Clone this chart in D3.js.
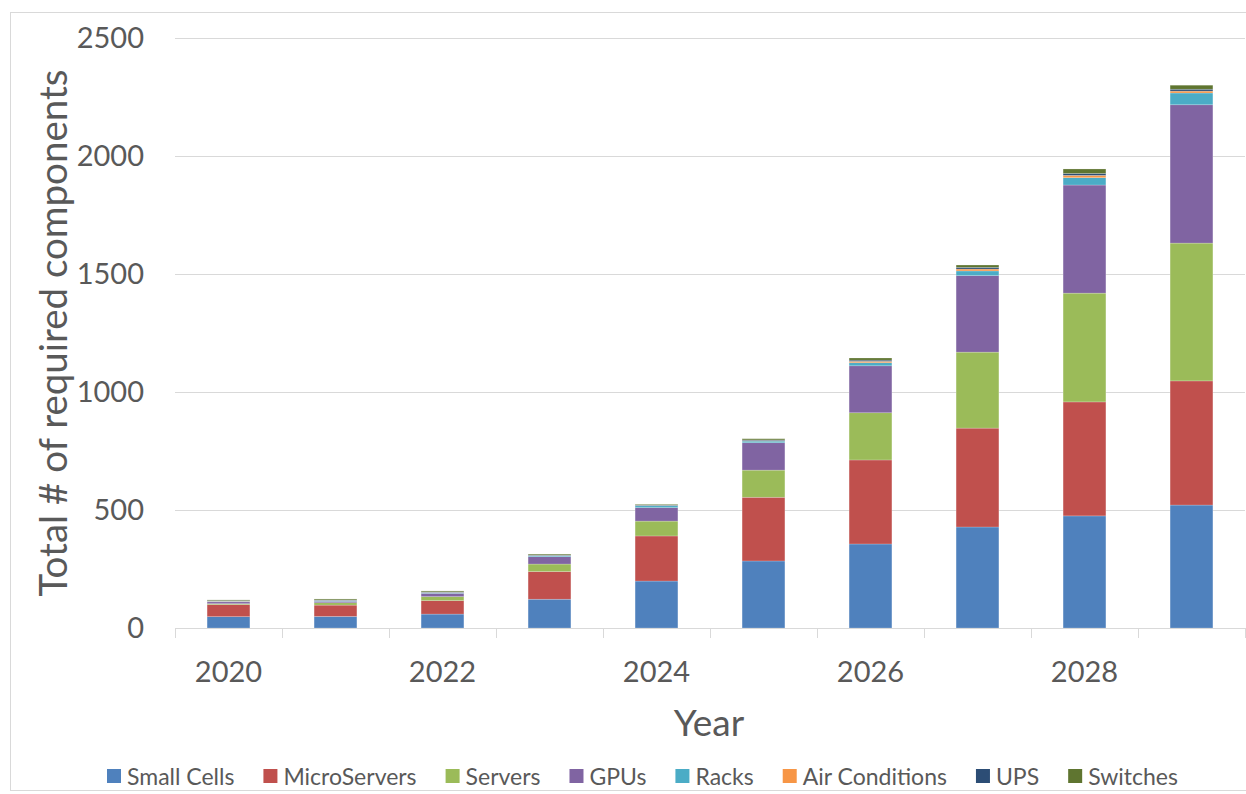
<!DOCTYPE html>
<html>
<head>
<meta charset="utf-8">
<script src="https://cdn.jsdelivr.net/npm/d3@7"></script>
<style>
  html, body { margin: 0; padding: 0; background: #fff; }
  svg { display: block; }
  text { font-family: Lato, "Open Sans", sans-serif; fill: #595959; }
</style>
</head>
<body>
<svg id="chart" width="1246" height="794"></svg>
<script>
// Years on the category axis
const years = [2020, 2021, 2022, 2023, 2024, 2025, 2026, 2027, 2028, 2029];
// Only every other year is labelled
const yearTickLabels = ["2020", "2022", "2024", "2026", "2028"];
const yTickValues = [0, 500, 1000, 1500, 2000, 2500];

// Component series, stacked bottom to top
const seriesNames = ["Small Cells", "MicroServers", "Servers", "GPUs", "Racks", "Air Conditions", "UPS", "Switches"];
const smallCells   = [48, 49, 59, 122, 199, 284, 356, 428, 475, 521];
const microServers = [51, 48, 57, 117, 191, 270, 356, 419, 483, 526];
const servers      = [4, 10, 17, 32, 63, 115, 200, 322, 461, 584];
const gpus         = [8, 6, 14, 31, 57, 116, 199, 324, 458, 586];
const racks        = [2, 3, 3, 4, 8, 7, 13, 20, 31, 50];
const airCond      = [1, 1, 1, 1, 1, 2, 6, 8, 10, 8];
const ups          = [2, 2, 2, 2, 2, 3, 5, 7, 8, 8];
const switches     = [3, 4, 4, 4, 3, 5, 9, 10, 19, 17];

const seriesValues = [smallCells, microServers, servers, gpus, racks, airCond, ups, switches];
const seriesColors = ["#4F81BD", "#C0504D", "#9BBB59", "#8064A2", "#4BACC6", "#F79646", "#2C4D75", "#5F7530"];

const svg = d3.select("#chart");
const margin = { left: 175, right: 1245, top: 38, bottom: 628 };

// Outer chart frame
svg.append("rect")
  .attr("x", 10.5).attr("y", 12.5)
  .attr("width", 1260).attr("height", 778)
  .attr("fill", "none").attr("stroke", "#d9d9d9").attr("stroke-width", 1);

const x = d3.scaleBand()
  .domain(years)
  .range([margin.left, margin.right])
  .paddingInner(0.6).paddingOuter(0.3);

const y = d3.scaleLinear()
  .domain([0, 2500])
  .range([margin.bottom, margin.top]);

// Horizontal gridlines
svg.append("g")
  .selectAll("line")
  .data(yTickValues.filter(v => v > 0))
  .join("line")
  .attr("x1", margin.left).attr("x2", margin.right)
  .attr("y1", d => Math.round(y(d)) + 0.5).attr("y2", d => Math.round(y(d)) + 0.5)
  .attr("stroke", "#d9d9d9").attr("stroke-width", 1);

// Y axis labels
const yAxis = d3.axisLeft(y).tickValues(yTickValues).tickFormat(d3.format("d")).tickSize(0).tickPadding(31);
const yG = svg.append("g").attr("transform", `translate(${margin.left},0)`).call(yAxis);
yG.select(".domain").remove();
yG.selectAll("text")
  .style("font-family", "Lato, 'Open Sans', sans-serif")
  .style("font-size", "29px")
  .attr("fill", "#595959");

// Stacked data
const table = years.map((yr, i) => {
  const row = { year: yr };
  seriesNames.forEach((name, s) => { row[name] = seriesValues[s][i]; });
  return row;
});
const stacked = d3.stack().keys(seriesNames)(table);

svg.append("g")
  .selectAll("g")
  .data(stacked)
  .join("g")
  .attr("fill", (d, i) => seriesColors[i])
  .selectAll("rect")
  .data(d => d)
  .join("rect")
  .attr("x", d => x(d.data.year))
  .attr("width", x.bandwidth())
  .attr("y", d => y(d[1]))
  .attr("height", d => y(d[0]) - y(d[1]))
  .attr("stroke", "#ffffff")
  .attr("stroke-opacity", 0.35)
  .attr("stroke-width", 0.6);

// Category axis line and tick marks between categories
const boundaries = d3.range(years.length + 1).map(i => margin.left + i * (margin.right - margin.left) / years.length);
const axisG = svg.append("g");
axisG.append("line")
  .attr("x1", margin.left).attr("x2", margin.right)
  .attr("y1", margin.bottom + 0.5).attr("y2", margin.bottom + 0.5)
  .attr("stroke", "#d9d9d9").attr("stroke-width", 1);
axisG.selectAll("line.tick")
  .data(boundaries)
  .join("line")
  .attr("class", "tick")
  .attr("x1", d => Math.round(d) + 0.5).attr("x2", d => Math.round(d) + 0.5)
  .attr("y1", margin.bottom).attr("y2", margin.bottom + 10)
  .attr("stroke", "#d9d9d9").attr("stroke-width", 1);

axisG.selectAll("text")
  .data(yearTickLabels)
  .join("text")
  .attr("x", d => x(+d) + x.bandwidth() / 2)
  .attr("y", 670)
  .attr("text-anchor", "middle")
  .attr("dominant-baseline", "central")
  .style("font-size", "29px")
  .text(d => d);

// Axis titles
svg.append("text")
  .attr("x", 709).attr("y", 721)
  .attr("text-anchor", "middle")
  .attr("dominant-baseline", "central")
  .style("font-size", "37px")
  .text("Year");

svg.append("text")
  .attr("transform", "translate(52,333) rotate(-90)")
  .attr("text-anchor", "middle")
  .attr("dominant-baseline", "central")
  .style("font-size", "38.5px")
  .text("Total # of required components");

// Legend
const legend = svg.append("g");
let lx = 107;
const ly = 776;
seriesNames.forEach((name, i) => {
  const item = legend.append("g");
  item.append("rect")
    .attr("x", lx).attr("y", ly - 7)
    .attr("width", 14).attr("height", 14)
    .attr("fill", seriesColors[i]);
  const t = item.append("text")
    .attr("x", lx + 20).attr("y", ly)
    .attr("dominant-baseline", "central")
    .style("font-size", "23px")
    .text(name);
  lx += 20 + t.node().getComputedTextLength() + 29;
});
</script>
</body>
</html>
